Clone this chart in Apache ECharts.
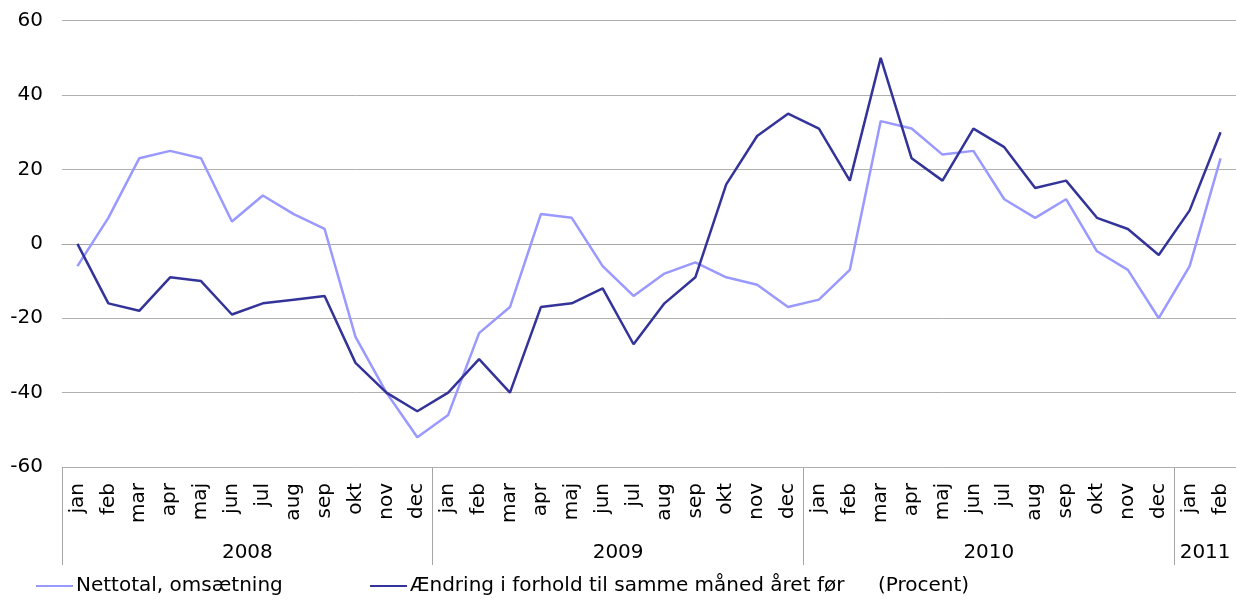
<!DOCTYPE html>
<html>
<head>
<meta charset="utf-8">
<script src="https://cdn.jsdelivr.net/npm/echarts@6/dist/echarts.min.js"></script>
<style>
  html, body { margin: 0; padding: 0; background: #fff; }
  #chart { width: 1236px; height: 601px; }
</style>
</head>
<body>
<div id="chart"></div>
<script>
const years = ['2008', '2009', '2010', '2011'];
const monthsPerYear = [12, 12, 12, 2];
const monthNames = ['jan', 'feb', 'mar', 'apr', 'maj', 'jun', 'jul', 'aug', 'sep', 'okt', 'nov', 'dec'];

const nettotal = [
    -6, 7, 23, 25, 23, 6, 13, 8, 4, -25, -40, -52,
    -46, -24, -17, 8, 7, -6, -14, -8, -5, -9, -11, -17,
    -15, -7, 33, 31, 24, 25, 12, 7, 12, -2, -7, -20,
    -6, 23
];
const aendring = [
    0, -16, -18, -9, -10, -19, -16, -15, -14, -32, -40, -45,
    -40, -31, -40, -17, -16, -12, -27, -16, -9, 16, 29, 35,
    31, 17, 50, 23, 17, 31, 26, 15, 17, 7, 4, -3,
    9, 30
];

const yTicks = { min: -60, max: 60, interval: 20 };

const seriesNames = ['Nettotal, omsætning', 'Ændring i forhold til samme måned året før'];
const unitLabel = '(Procent)';

// month categories + where each year starts / sits
const categories = [];
const yearBounds = [0];
const yearCenters = [];
monthsPerYear.forEach((n) => {
    for (let m = 0; m < n; m++) categories.push(monthNames[m]);
    const start = yearBounds[yearBounds.length - 1];
    yearBounds.push(start + n);
    yearCenters.push(start + n / 2);
});

const font = 'DejaVu Sans';
const chart = echarts.init(document.getElementById('chart'));

const legendBase = {
    top: 571,
    itemWidth: 37,
    itemHeight: 14,
    itemGap: 0,
    icon: 'path://M0,6 L37,6 L37,8 L0,8 Z',
    textStyle: { fontFamily: font, fontSize: 20, color: '#000', padding: [0, 0, 0, -2] }
};

const option = {
    animation: false,
    backgroundColor: '#fff',
    textStyle: { fontFamily: font },
    grid: {
        left: 62,
        right: 0,
        top: 20.7,
        bottom: 134
    },
    legend: [
        Object.assign({ data: [seriesNames[0]], left: 31 }, legendBase),
        Object.assign({ data: [seriesNames[1]], left: 365 }, legendBase)
    ],
    graphic: [
        {
            type: 'text',
            left: 878,
            top: 576,
            style: { text: unitLabel, font: '20px "DejaVu Sans"', fill: '#000' }
        }
    ],
    xAxis: [
        {
            type: 'category',
            data: categories,
            boundaryGap: true,
            axisLine: { show: true, lineStyle: { color: '#a6a6a6', width: 1 } },
            axisTick: { show: false },
            axisLabel: {
                interval: 0,
                rotate: 90,
                margin: 16,
                fontSize: 20,
                color: '#000',
                fontFamily: font
            },
            splitLine: { show: false }
        },
        {
            // year groups: separators and centred year labels
            type: 'value',
            position: 'bottom',
            min: 0,
            max: categories.length,
            axisLine: { show: false },
            axisTick: {
                show: true,
                customValues: yearBounds,
                length: 98,
                lineStyle: { color: '#a6a6a6', width: 1 }
            },
            axisLabel: {
                show: true,
                customValues: yearCenters,
                margin: 76,
                fontSize: 20,
                color: '#000',
                fontFamily: font,
                formatter: function (v) {
                    const i = yearCenters.indexOf(v);
                    return i >= 0 ? years[i] : '';
                }
            },
            splitLine: { show: false }
        }
    ],
    yAxis: {
        type: 'value',
        min: yTicks.min,
        max: yTicks.max,
        interval: yTicks.interval,
        axisLine: { show: false },
        axisTick: { show: false },
        axisLabel: { fontSize: 20, color: '#000', margin: 19, fontFamily: font },
        splitLine: { lineStyle: { color: '#b0b0b0', width: 1 } }
    },
    series: [
        {
            name: seriesNames[0],
            type: 'line',
            data: nettotal,
            symbol: 'none',
            lineStyle: { color: '#9999ff', width: 2.5 },
            itemStyle: { color: '#9999ff' }
        },
        {
            name: seriesNames[1],
            type: 'line',
            data: aendring,
            symbol: 'none',
            lineStyle: { color: '#333399', width: 2.5 },
            itemStyle: { color: '#333399' }
        }
    ]
};

chart.setOption(option);
</script>
</body>
</html>
